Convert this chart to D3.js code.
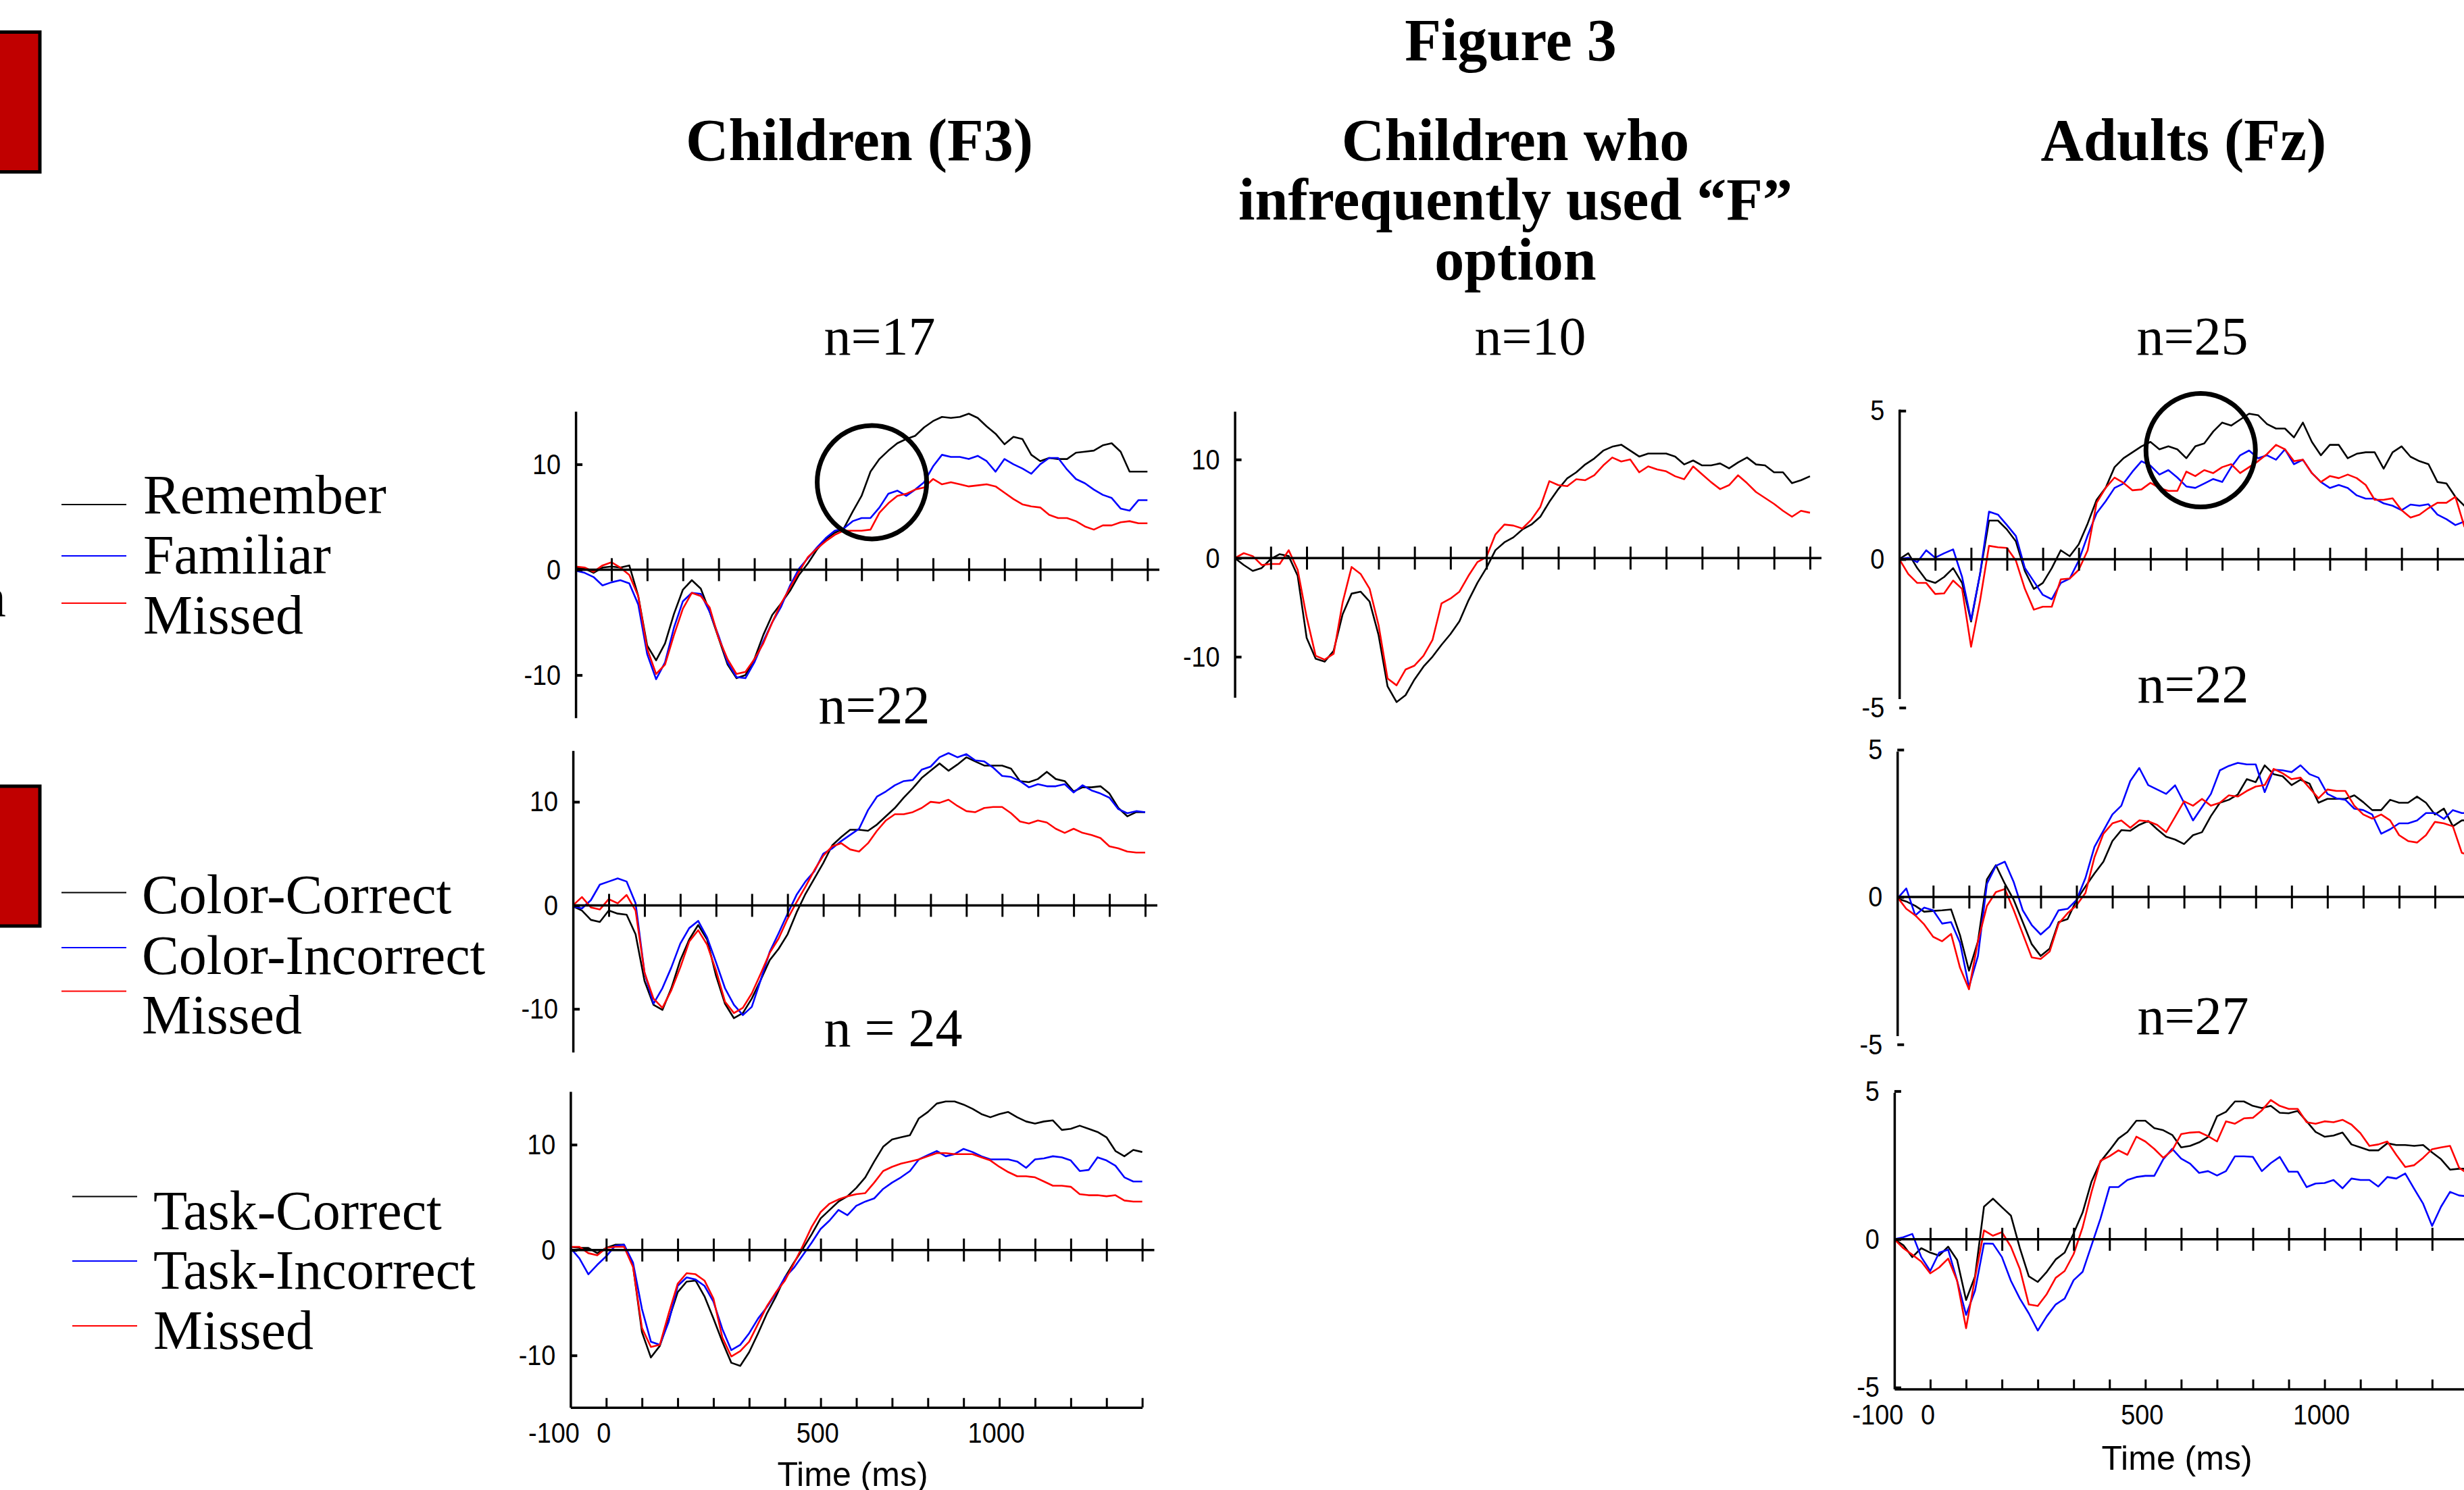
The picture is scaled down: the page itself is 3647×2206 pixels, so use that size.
<!DOCTYPE html>
<html>
<head>
<meta charset="utf-8">
<script src="https://cdn.jsdelivr.net/npm/d3@7/dist/d3.min.js"></script>
<style>
html,body{margin:0;padding:0;background:#fff;overflow:hidden;}
svg{display:block;}
</style>
</head>
<body>
<svg id="fig" width="3647" height="2206"></svg>
<script>
// ---------------- DATA ----------------
const timeMs = [-100,-75,-50,-25,0,25,50,75,100,125,150,175,200,225,250,275,300,325,350,375,400,425,450,475,500,525,550,575,600,625,650,675,700,725,750,775,800,825,850,875,900,925,950,975,1000,1025,1050,1075,1100,1125,1150,1175,1200,1225,1250,1275,1300,1325,1350,1375,1400,1425,1450,1475,1500];
const tickMs = [0,100,200,300,400,500,600,700,800,900,1000,1100,1200,1300,1400,1500];
const xLabelValues = [-100,0,500,1000];
const childYTicks = [-10,0,10];
const adultYTicks = [-5,0,5];

const figureTitle = "Figure 3";
const columnTitles = ["Children (F3)", "Children who|infrequently used \u201CF\u201D|option", "Adults (Fz)"];
const nLabels = ["n=17","n=22","n = 24","n=10","n=25","n=22","n=27"];
const legendRecog = ["Remember","Familiar","Missed"];
const legendColor = ["Color-Correct","Color-Incorrect","Missed"];
const legendTask = ["Task-Correct","Task-Incorrect","Missed"];
const seriesColors = ["#000000","#0000ff","#ff0000"];

// Children (F3)
const f3Remember = [0.2,0.1,-0.3,0.2,0.3,0.2,0.4,-2.5,-7.2,-8.6,-7.0,-4.2,-1.9,-1.0,-1.8,-4.0,-6.5,-9.0,-10.3,-10.0,-8.5,-6.2,-4.3,-3.2,-2.0,-0.5,0.6,1.9,2.9,3.5,3.9,5.5,7.0,9.3,10.5,11.3,12.0,12.4,12.7,13.5,14.1,14.5,14.4,14.5,14.8,14.4,13.6,12.9,11.9,12.6,12.4,10.9,10.3,10.6,10.5,10.5,11.1,11.2,11.3,11.8,12.0,11.2,9.3,9.3,9.3];
const f3Familiar = [-0.1,-0.3,-0.7,-1.5,-1.2,-1.0,-1.3,-3.3,-8.0,-10.4,-8.8,-5.5,-3.0,-2.2,-2.3,-4.0,-6.3,-8.8,-10.2,-10.3,-8.8,-6.8,-5.0,-3.5,-1.5,0.1,1.1,2.1,3.0,3.7,3.9,4.6,4.9,4.9,5.9,7.2,7.5,7.0,7.6,8.3,9.8,10.9,10.7,10.7,10.5,10.8,10.3,9.3,10.5,10.0,9.6,9.1,10.0,10.6,10.6,9.5,8.6,8.2,7.6,7.1,6.8,5.8,5.6,6.6,6.6];
const f3RecogMissed = [0.3,0.2,-0.2,0.4,0.7,0.2,-0.5,-2.5,-7.5,-9.9,-9.0,-6.2,-3.7,-2.2,-2.5,-3.6,-6.5,-8.5,-9.9,-9.7,-8.5,-7.0,-5.0,-3.2,-1.7,-0.2,1.2,2.0,2.7,3.3,3.7,3.7,3.7,3.8,5.4,6.3,7.0,7.2,7.6,7.8,8.6,8.1,8.3,8.1,7.9,8.0,8.1,7.9,7.3,6.7,6.2,6.0,5.9,5.2,4.9,4.9,4.6,4.1,3.8,4.2,4.2,4.5,4.6,4.4,4.4];
const f3ColorCorrect = [-0.1,-0.5,-1.4,-1.6,-0.5,-0.8,-0.9,-2.8,-7.3,-9.6,-10.1,-8.0,-5.3,-3.3,-1.9,-3.3,-6.8,-9.5,-10.9,-10.4,-9.0,-7.2,-5.3,-4.2,-2.8,-0.7,1.1,2.6,4.1,5.8,6.6,7.3,7.3,7.2,7.8,8.6,9.4,10.4,11.3,12.3,13.0,13.7,13.0,13.6,14.3,13.9,13.5,13.5,13.5,13.2,12.0,11.9,12.2,12.9,12.2,12.0,11.0,11.4,11.4,11.5,10.8,9.4,8.6,9.0,9.0];
const f3ColorIncorrect = [-0.1,-0.3,0.5,2.0,2.3,2.6,2.3,0.2,-6.5,-9.5,-8.0,-6.0,-3.7,-2.2,-1.5,-3.1,-5.5,-8.0,-9.6,-10.6,-9.8,-7.2,-4.5,-2.7,-0.8,1.0,2.3,3.3,5.0,5.5,6.2,6.8,7.4,9.2,10.5,11.0,11.6,12.0,12.1,13.1,13.4,14.3,14.7,14.3,14.6,14.0,13.9,13.3,12.5,12.4,12.0,11.4,11.7,11.5,11.5,11.7,10.9,11.6,11.1,10.8,10.4,9.3,8.9,9.1,9.0];
const f3ColorMissed = [0.0,0.8,-0.2,-0.4,0.6,0.2,1.0,-0.5,-6.5,-9.0,-9.9,-8.2,-6.0,-3.5,-2.4,-3.8,-6.3,-9.3,-10.4,-9.9,-8.5,-6.6,-4.6,-3.2,-1.3,0.3,1.8,3.4,4.8,5.7,6.0,5.4,5.2,6.0,7.2,8.2,8.8,8.8,9.0,9.4,10.0,9.9,10.2,9.6,9.1,9.0,9.4,9.5,9.5,8.9,8.1,7.9,8.2,8.0,7.4,7.0,7.4,7.0,6.8,6.5,5.7,5.5,5.2,5.1,5.1];
const f3TaskCorrect = [0.3,0.2,0.2,-0.3,0.2,0.5,0.5,-1.5,-7.8,-10.2,-9.1,-6.6,-4.0,-3.0,-2.9,-4.4,-6.5,-8.7,-10.7,-11.0,-9.7,-7.9,-6.0,-4.4,-2.6,-1.2,0.1,1.5,3.0,3.8,4.6,5.1,5.9,6.9,8.4,9.8,10.5,10.7,10.9,12.5,13.1,13.9,14.1,14.1,13.8,13.4,12.9,12.6,12.9,13.1,12.6,12.2,12.0,12.2,12.3,11.4,11.5,11.8,11.5,11.2,10.7,9.4,8.9,9.5,9.3];
const f3TaskIncorrect = [0.2,-0.8,-2.3,-1.4,-0.6,0.4,0.5,-1.2,-5.6,-8.7,-9.0,-6.8,-3.4,-2.6,-2.8,-3.4,-4.9,-7.5,-9.5,-9.0,-7.9,-6.5,-5.4,-4.1,-2.6,-1.7,-0.5,0.7,2.0,2.8,3.8,3.3,4.2,4.6,4.9,5.8,6.4,6.9,7.5,8.6,9.0,9.4,8.9,9.1,9.6,9.3,8.9,8.6,8.6,8.6,8.4,7.8,8.6,8.7,8.9,8.8,8.5,7.5,7.6,8.8,8.5,8.0,6.9,6.5,6.5];
const f3TaskMissed = [0.3,0.3,-0.3,-0.5,0.2,0.3,0.3,-1.6,-7.4,-9.2,-9.0,-6.0,-3.2,-2.2,-2.3,-2.9,-4.6,-8.3,-10.1,-9.6,-8.7,-7.0,-5.3,-4.0,-2.9,-1.3,0.4,2.2,3.6,4.4,4.8,5.1,5.3,5.4,6.4,7.5,7.9,8.2,8.4,8.6,8.9,9.2,9.2,9.1,9.1,9.1,8.8,8.5,7.9,7.4,7.0,7.0,6.9,6.5,6.1,6.1,6.0,5.3,5.2,5.2,5.1,5.2,4.7,4.6,4.6];

// Children who infrequently used "F"
const infreqRemember = [0.0,-0.7,-1.3,-1.0,-0.1,0.4,0.2,-1.8,-8.1,-10.2,-10.5,-9.4,-5.7,-3.6,-3.4,-4.4,-7.8,-13.0,-14.6,-13.9,-12.3,-11.0,-10.0,-8.8,-7.7,-6.4,-4.3,-2.5,-1.0,0.8,1.6,2.1,2.9,3.4,4.2,5.7,7.0,8.1,8.7,9.5,10.1,10.9,11.3,11.5,10.9,10.3,10.6,10.6,10.6,10.3,9.5,9.9,9.4,9.4,9.6,9.1,9.7,10.2,9.5,9.4,8.7,8.7,7.6,7.9,8.3];
const infreqMissed = [0.0,0.5,0.2,-0.7,-0.6,-0.6,0.8,-1.2,-6.0,-9.9,-10.3,-9.7,-4.5,-0.9,-1.6,-3.1,-6.8,-12.2,-12.9,-11.3,-10.9,-9.9,-8.3,-4.6,-4.1,-3.4,-1.8,-0.4,0.1,2.4,3.4,3.3,3.0,3.9,5.2,7.8,7.4,7.3,8.0,7.9,8.4,9.4,10.2,9.8,10.0,8.7,9.3,9.0,8.8,8.3,8.0,9.3,8.5,7.7,7.0,7.4,8.4,7.6,6.7,6.1,5.5,4.8,4.2,4.8,4.6];

// Adults (Fz)
const fzRemember = [0.0,0.2,-0.3,-0.7,-0.8,-0.6,-0.3,-0.8,-2.1,-0.5,1.3,1.3,1.0,0.6,-0.4,-1.0,-0.8,-0.3,0.3,0.1,0.5,1.2,2.0,2.4,3.1,3.4,3.6,3.8,3.95,3.7,3.8,3.7,3.4,3.8,3.9,4.3,4.6,4.5,4.7,4.9,4.85,4.55,4.4,4.4,4.1,4.6,3.95,3.5,3.85,3.85,3.4,3.55,3.6,3.6,3.05,3.6,3.8,3.45,3.3,3.2,2.6,2.55,2.1,1.8,1.8];
const fzFamiliar = [0.0,0.05,-0.1,0.3,0.05,0.2,0.33,-0.6,-2.05,-0.5,1.6,1.5,1.15,0.78,-0.3,-0.75,-1.2,-1.35,-0.8,-0.65,-0.05,0.8,1.55,1.95,2.4,2.55,2.95,3.3,3.15,2.85,3.0,2.75,2.45,2.4,2.55,2.7,2.6,3.1,3.5,3.66,3.4,3.5,3.35,3.7,3.2,3.35,2.9,2.6,2.4,2.5,2.4,2.15,2.04,2.04,1.88,1.8,1.65,1.84,1.8,1.85,1.5,1.35,1.15,1.27,1.27];
const fzRecogMissed = [0.0,-0.5,-0.8,-0.8,-1.17,-1.15,-0.72,-1.0,-2.95,-1.4,0.45,0.4,0.38,-0.05,-1.0,-1.7,-1.6,-1.6,-0.68,-0.65,-0.36,0.3,1.9,2.4,2.75,2.57,2.32,2.35,2.57,2.4,2.3,2.3,2.95,2.8,3.0,2.9,3.1,3.2,2.9,3.1,3.3,3.54,3.85,3.7,3.3,3.35,2.9,2.6,2.8,2.73,2.85,2.73,2.5,2.0,2.0,2.05,1.65,1.4,1.5,1.72,1.9,1.9,2.1,1.1,1.1];
const fzColorCorrect = [-0.05,-0.15,-0.3,-0.5,-0.47,-0.45,-0.42,-1.3,-2.5,-1.5,0.6,1.08,0.45,-0.1,-0.85,-1.6,-2.0,-1.75,-0.85,-0.75,-0.1,0.36,0.8,1.2,1.9,2.27,2.25,2.45,2.58,2.3,2.05,1.95,1.8,2.1,2.2,2.75,3.2,3.3,3.48,4.0,3.9,4.47,4.17,4.1,3.8,3.98,3.85,3.2,3.33,3.33,3.33,3.45,3.22,2.95,2.95,3.3,3.2,3.2,3.41,3.2,2.8,3.0,2.4,2.6,2.6];
const fzColorIncorrect = [-0.05,0.29,-0.62,-0.36,-0.45,-0.9,-0.85,-1.55,-3.05,-2.0,0.45,1.06,1.2,0.5,-0.45,-0.95,-1.27,-1.0,-0.45,-0.4,-0.1,0.65,1.7,2.25,2.8,3.1,3.94,4.38,3.8,3.65,3.5,3.79,3.2,2.6,3.05,3.5,4.3,4.45,4.55,4.5,4.5,3.56,4.32,4.3,4.24,4.47,4.17,4.05,3.5,3.35,3.3,3.0,2.95,2.8,2.15,2.3,2.5,2.5,2.6,2.85,2.85,2.65,2.95,2.85,2.85];
const fzColorMissed = [0.0,-0.4,-0.62,-0.93,-1.35,-1.5,-1.25,-2.4,-3.13,-1.5,-0.3,0.17,0.27,-0.45,-1.25,-2.05,-2.1,-1.85,-0.9,-0.55,-0.28,0.14,1.35,2.15,2.5,2.6,2.35,2.6,2.57,2.45,2.2,2.72,3.25,3.1,3.33,3.1,3.2,3.45,3.41,3.6,3.75,3.8,4.35,4.2,4.0,4.05,3.7,3.35,3.65,3.6,3.6,3.1,2.8,2.66,2.8,2.6,2.1,1.9,1.85,2.1,2.55,2.5,2.4,1.5,1.4];
const fzTaskCorrect = [0.0,-0.2,-0.6,-0.3,-0.45,-0.55,-0.25,-0.7,-2.05,-1.25,1.1,1.37,1.08,0.8,-0.3,-1.25,-1.44,-1.1,-0.68,-0.45,0.2,0.9,1.95,2.62,3.0,3.4,3.62,4.0,4.0,3.75,3.68,3.52,3.1,3.15,3.27,3.45,4.15,4.3,4.65,4.65,4.5,4.43,4.5,4.27,4.25,4.33,3.98,3.62,3.46,3.5,3.6,3.2,3.1,3.0,3.0,3.24,3.18,3.18,3.15,3.18,2.93,2.7,2.35,2.38,2.38];
const fzTaskIncorrect = [0.0,0.07,0.18,-0.6,-1.07,-0.45,-0.35,-1.4,-2.55,-1.73,-0.14,-0.15,-0.6,-1.4,-2.0,-2.5,-3.08,-2.6,-2.2,-2.0,-1.38,-1.1,-0.2,0.7,1.76,1.76,2.0,2.1,2.14,2.14,2.7,3.05,2.72,2.55,2.24,2.3,2.15,2.3,2.8,2.8,2.78,2.3,2.57,2.78,2.28,2.28,1.76,1.88,1.9,2.0,1.72,2.05,2.0,2.0,1.78,2.1,2.05,2.22,1.7,1.2,0.45,1.1,1.6,1.48,1.45];
const fzTaskMissed = [0.0,-0.3,-0.52,-0.75,-1.15,-0.95,-0.65,-1.4,-3.0,-1.3,0.3,0.12,0.24,-0.25,-1.0,-2.2,-2.25,-1.85,-1.3,-1.07,-0.5,0.4,1.6,2.65,2.8,3.0,2.85,3.46,3.3,3.05,2.75,3.0,3.55,3.6,3.62,3.48,3.3,3.98,3.9,4.08,4.1,4.35,4.7,4.5,4.4,4.4,3.95,3.9,3.98,3.95,4.03,3.87,3.58,3.15,3.2,3.3,2.85,2.44,2.5,2.75,3.04,3.1,3.15,2.42,2.2];

// annotation circles: centre in data space [time ms, µV]
const circleA = [729, 8.3];
const circleC = [740, 3.67];

// ---------------- LAYOUT ----------------
const SERIF = "'Liberation Serif','Times New Roman',serif";
const SANS = "'Liberation Sans',Arial,sans-serif";
const TICK_SX = 0.88;   // narrow tick-label glyphs
const svg = d3.select("#fig");
svg.append("rect").attr("width",3647).attr("height",2206).attr("fill","#fff");

const panels = [
  {x0:852.1, step:52.89, zeroY:843.4, ppu:15.6, yTop:15.03, yBot:-14.06, yTicks:childYTicks, zeroEnd:1716,
   series:[f3Remember,f3Familiar,f3RecogMissed], colors:seriesColors, bottom:false, circle:circleA},
  {x0:848.1, step:52.93, zeroY:1340.4, ppu:15.33, yTop:14.94, yBot:-14.17, yTicks:childYTicks, zeroEnd:1713,
   series:[f3ColorCorrect,f3ColorIncorrect,f3ColorMissed], colors:seriesColors, bottom:false},
  {x0:844.4, step:52.89, zeroY:1850.7, ppu:15.6, yTop:15.04, yBot:-14.94, yTicks:childYTicks, zeroEnd:1708.5,
   series:[f3TaskCorrect,f3TaskIncorrect,f3TaskMissed], colors:seriesColors, bottom:true, timeLabel:[1262,2200]},
  {x0:1827.6, step:53.21, zeroY:826.3, ppu:14.6, yTop:14.88, yBot:-14.13, yTicks:childYTicks, zeroEnd:2696,
   series:[infreqRemember,infreqMissed], colors:["#000000","#ff0000"], bottom:false},
  {x0:2811.2, step:53.1, zeroY:827.9, ppu:43.96, yTop:5.05, yBot:-4.7, yTicks:adultYTicks, zeroEnd:3647,
   series:[fzRemember,fzFamiliar,fzRecogMissed], colors:seriesColors, bottom:false, circle:circleC},
  {x0:2808.25, step:53.05, zeroY:1328.1, ppu:43.63, yTop:4.95, yBot:-4.71, yTicks:adultYTicks, zeroEnd:3647,
   series:[fzColorCorrect,fzColorIncorrect,fzColorMissed], colors:seriesColors, bottom:false},
  {x0:2803.9, step:53.06, zeroY:1834.8, ppu:43.88, yTop:4.95, yBot:-5.05, yTicks:adultYTicks, zeroEnd:3647,
   series:[fzTaskCorrect,fzTaskIncorrect,fzTaskMissed], colors:seriesColors, bottom:true, timeLabel:[3222,2176]}
];
const labelShift = [-25,-4,48,48];

panels.forEach(p => {
  const x = d3.scaleLinear().domain([-100,1500]).range([p.x0, p.x0 + 16*p.step]);
  const y = d3.scaleLinear().domain([p.yBot, p.yTop])
              .range([p.zeroY - p.yBot*p.ppu, p.zeroY - p.yTop*p.ppu]);
  const g = svg.append("g");

  // data
  const line = d3.line().x((d,i)=>x(timeMs[i])).y(d=>y(d));
  p.series.forEach((s,k)=>{
    g.append("path").attr("d", line(s)).attr("fill","none")
     .attr("stroke", p.colors[k]).attr("stroke-width",2.6).attr("stroke-linejoin","round");
  });

  // y axis
  const ya = g.append("g").attr("transform",`translate(${x(-100)},0)`)
    .call(d3.axisLeft(y).tickValues(p.yTicks).tickSize(-10).tickSizeOuter(0).tickPadding(25).tickFormat(d=>String(d)));
  ya.select(".domain").attr("stroke","#000").attr("stroke-width",3.5);
  ya.selectAll(".tick line").attr("stroke","#000").attr("stroke-width",4);
  ya.selectAll(".tick text").attr("font-family",SANS).attr("font-size",43).attr("fill","#000")
    .attr("transform",`scale(${TICK_SX},1)`);

  // zero line with cross ticks
  const za = g.append("g").attr("transform",`translate(0,${y(0)})`)
    .call(d3.axisBottom(x).tickValues(tickMs).tickSize(17).tickSizeOuter(0).tickFormat(""));
  za.select(".domain").remove();
  za.selectAll(".tick line").attr("y1",-17).attr("stroke","#000").attr("stroke-width",3);
  za.append("line").attr("x1",x(-100)).attr("x2",p.zeroEnd).attr("y1",0).attr("y2",0)
    .attr("stroke","#000").attr("stroke-width",3.5);

  if (p.bottom) {
    const ba = g.append("g").attr("transform",`translate(0,${y(p.yBot)})`)
      .call(d3.axisBottom(x).tickValues(tickMs).tickSize(-14).tickSizeOuter(0).tickFormat(""));
    ba.select(".domain").attr("stroke","#000").attr("stroke-width",3.5);
    ba.selectAll(".tick line").attr("stroke","#000").attr("stroke-width",3);
    const la = g.append("g").attr("transform",`translate(0,${y(p.yBot)})`)
      .call(d3.axisBottom(x).tickValues(xLabelValues).tickSize(0).tickPadding(22).tickFormat(d=>String(d)));
    la.select(".domain").remove();
    la.selectAll(".tick text").attr("font-family",SANS).attr("font-size",43).attr("fill","#000")
      .attr("transform",`scale(${TICK_SX},1)`)
      .attr("dx",(d,i)=>labelShift[i]/TICK_SX);
    g.append("text").attr("x",p.timeLabel[0]).attr("y",p.timeLabel[1]).attr("text-anchor","middle")
      .attr("font-family",SANS).attr("font-size",50).attr("fill","#000").text("Time (ms)");
  }

  if (p.circle) {
    g.append("ellipse").attr("cx",x(p.circle[0])).attr("cy",y(p.circle[1]))
      .attr("rx",81).attr("ry",84).attr("fill","none").attr("stroke","#000").attr("stroke-width",7);
  }
});

// ---------------- TEXT ----------------
svg.append("text").attr("x",2236).attr("y",89).attr("text-anchor","middle")
  .attr("font-family",SERIF).attr("font-weight","bold").attr("font-size",88).text(figureTitle);
const titlePos = [[1272,[237]],[2243,[237,325,414]],[3232,[237]]];
columnTitles.forEach((t,i)=>{
  t.split("|").forEach((ln,j)=>{
    svg.append("text").attr("x",titlePos[i][0]).attr("y",titlePos[i][1][j]).attr("text-anchor","middle")
      .attr("font-family",SERIF).attr("font-weight","bold").attr("font-size",88).text(ln);
  });
});
const nPos = [[1302,525],[1294,1071],[1322,1549],[2265,525],[3245,525],[3246,1040],[3246,1531]];
nLabels.forEach((t,i)=>{
  svg.append("text").attr("x",nPos[i][0]).attr("y",nPos[i][1]).attr("text-anchor","middle")
    .attr("font-family",SERIF).attr("font-size",80).text(t);
});

// red boxes at left edge
[[47.5,207],[1164,207]].forEach(b=>{
  svg.append("rect").attr("x",-30).attr("y",b[0]).attr("width",89).attr("height",b[1])
    .attr("fill","#c00000").attr("stroke","#000").attr("stroke-width",5);
});
// clipped letter at left edge (as in the source)
svg.append("text").attr("x",9).attr("y",912).attr("text-anchor","end")
  .attr("font-family",SERIF).attr("font-size",82).text("n");

// legends
const legends = [
  {labels:legendRecog, lx:[91,187], ly:[747,823,893], tx:212, ty:[760,849,938]},
  {labels:legendColor, lx:[91,187], ly:[1321.5,1403,1467.5], tx:210, ty:[1352,1442,1530]},
  {labels:legendTask, lx:[107,203], ly:[1771.5,1867,1963], tx:227, ty:[1819.5,1907.6,1997]}
];
legends.forEach(L=>{
  L.labels.forEach((lab,i)=>{
    svg.append("line").attr("x1",L.lx[0]).attr("x2",L.lx[1]).attr("y1",L.ly[i]).attr("y2",L.ly[i])
      .attr("stroke",seriesColors[i]).attr("stroke-width",2);
    svg.append("text").attr("x",L.tx).attr("y",L.ty[i]).attr("font-family",SERIF)
      .attr("font-size",82).attr("fill","#000").text(lab);
  });
});
</script>
</body>
</html>
